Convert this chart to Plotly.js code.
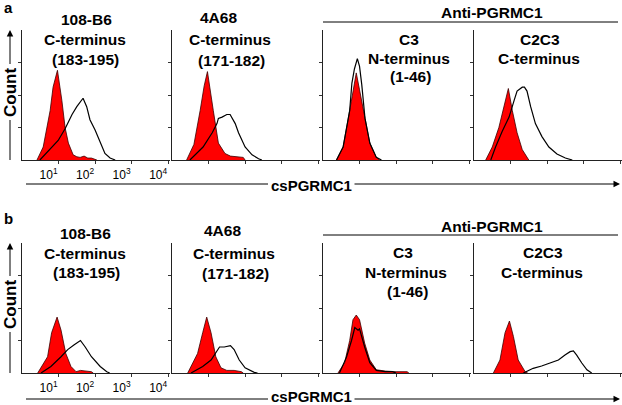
<!DOCTYPE html>
<html>
<head>
<meta charset="utf-8">
<script src="https://cdn.plot.ly/plotly-3.0.1.min.js"></script>
<style>html,body{margin:0;padding:0;background:#fff;}#chart{width:622px;height:405px;}</style>
</head>
<body>
<div id="chart"></div>
<script>
// ---- data (fluorescence intensity vs. count) ----
const tickVals = [10, 100, 1000, 10000];
const tickText = ['10<sup>1</sup>', '10<sup>2</sup>', '10<sup>3</sup>', '10<sup>4</sup>'];
const xTitle = 'csPGRMC1';
const yTitle = 'Count';
const groupLabel = 'Anti-PGRMC1';
const panelTitles = [
  ['108-B6', 'C-terminus', '(183-195)'],
  ['4A68', 'C-terminus', '(171-182)'],
  ['C3', 'N-terminus', '(1-46)'],
  ['C2C3', 'C-terminus']
];

// row a
const a1RedX = [2.57, 3.8, 5.89, 7.08, 9.33, 12.3, 15.1, 18.6, 25.1, 31.6, 38.9, 50.1, 63.1, 79.4, 112];
const a1RedY = [0, 10, 38, 56, 69, 46, 25, 13, 4, 2.5, 2, 3, 1.5, 1.5, 0];
const a1BlkX = [3.09, 5.89, 9.77, 15.1, 23.4, 31.6, 43.7, 46.8, 58.9, 72.4, 100, 138, 186, 257, 355];
const a1BlkY = [0, 8, 15, 24, 35, 41, 46, 47.5, 41, 31, 23, 13, 5, 1.5, 0];

const a2RedX = [2.51, 3.98, 5.89, 7.59, 9.33, 11.2, 13.5, 18.6, 28.2, 39.8, 56.2, 89.1, 100];
const a2RedY = [0, 12, 38, 57, 68, 52, 38, 13, 5, 3, 2.5, 2, 0];
const a2BlkX = [3.09, 7.08, 12.6, 17.0, 18.6, 23.4, 31.6, 38.9, 53.7, 66.1, 100, 155, 234, 288];
const a2BlkY = [0, 10, 21, 28, 32, 33, 35, 35, 28, 21, 10, 4, 1, 0];

const a3RedX = [2.34, 3.55, 5.37, 6.76, 8.13, 10, 14.1, 19.1, 28.8, 35.5];
const a3RedY = [0, 10, 38, 56, 67, 54, 31, 13, 2, 0];
const a3BlkX = [2.34, 3.55, 5.37, 6.17, 7.24, 8.71, 10, 11.5, 14.1, 19.1, 28.8, 39.8];
const a3BlkY = [0, 10, 38, 59, 70, 78, 72, 58, 32, 13, 2, 0];

const a4RedX = [2.09, 3.16, 4.79, 6.61, 8.71, 11.2, 15.1, 20.9, 28.2, 31.6];
const a4RedY = [0, 10, 25, 41, 55, 38, 21, 8, 1.5, 0];
const a4BlkX = [2.88, 3.89, 5.89, 9.12, 12.6, 15.1, 20.9, 24.0, 28.2, 35.5, 47.9, 72.4, 112, 186, 316, 490];
const a4BlkY = [0, 10, 22, 33, 46, 53, 56, 56, 53, 41, 28, 18, 10, 4.6, 1.5, 0];

// row b
const b1RedX = [2.69, 5.01, 6.46, 9.12, 11.7, 15.8, 21.9, 30.2, 39.8, 56.2, 79.4, 89.1];
const b1RedY = [0, 12.5, 31, 43, 33, 15, 5, 1, 2, 1.5, 1, 0];
const b1BlkX = [3.31, 6.17, 11.7, 17.8, 26.3, 39.8, 53.7, 79.4, 138, 209, 251];
const b1BlkY = [0, 5, 12.5, 18, 21.5, 25, 20, 12.5, 5, 1, 0];

const b2RedX = [2.69, 5.01, 6.92, 8.91, 11.7, 15.8, 21.9, 31.6, 50.1, 79.4, 89.1];
const b2RedY = [0, 15, 31, 43, 31, 12.5, 4, 2, 2, 1, 0];
const b2BlkX = [3.31, 6.92, 11.7, 15.8, 20, 26.9, 39.8, 50.1, 69.2, 100, 178, 219];
const b2BlkY = [0, 5, 10, 16, 20, 20, 21, 18, 10, 4, 0.5, 0];

const b3RedX = [2.57, 3.89, 5.37, 6.61, 8.13, 10, 13.8, 19.1, 28.8, 50.1, 100, 200, 224];
const b3RedY = [0, 7.7, 25, 41, 44.6, 41, 23, 10, 2.5, 1.5, 1, 1, 0];
const b3BlkX = [2.82, 4.37, 6.03, 7.41, 9.12, 10, 13.8, 19.1, 28.8, 50.1, 79.4, 100];
const b3BlkY = [0, 12, 25, 35, 33, 34, 20, 8, 2, 1, 1, 0];

const b4RedX = [3.39, 5.13, 7.08, 9.33, 12.0, 16.2, 25.1, 29.5];
const b4RedY = [0, 10, 31, 40, 28, 10, 1, 0];
const b4BlkX = [22.4, 27.5, 41.7, 70.8, 120, 204, 309, 427, 525, 646, 891, 1230, 1660];
const b4BlkY = [0, 1, 3.6, 5.4, 7.7, 10, 13.8, 16.4, 17, 13.8, 7.7, 2.5, 0];

const panels = [
  [a1RedX, a1RedY, a1BlkX, a1BlkY], [a2RedX, a2RedY, a2BlkX, a2BlkY],
  [a3RedX, a3RedY, a3BlkX, a3BlkY], [a4RedX, a4RedY, a4BlkX, a4BlkY],
  [b1RedX, b1RedY, b1BlkX, b1BlkY], [b2RedX, b2RedY, b2BlkX, b2BlkY],
  [b3RedX, b3RedY, b3BlkX, b3BlkY], [b4RedX, b4RedY, b4BlkX, b4BlkY]
];

// ---- layout geometry (pixels) ----
const W = 622, H = 405;
const colPx = [[22, 170], [172, 320], [323, 471], [474, 622]];
const rowPx = [[30, 160], [243, 373]];
const FONT = 'Liberation Sans, Arial, sans-serif';
const px = x => x / W, py = y => 1 - y / H;

const traces = [];
const layout = {
  width: W, height: H, margin: {l: 0, r: 0, t: 0, b: 0},
  paper_bgcolor: '#fff', plot_bgcolor: 'rgba(0,0,0,0)', showlegend: false,
  font: {family: FONT, color: '#000'},
  annotations: [], shapes: []
};

panels.forEach((p, i) => {
  const n = i + 1, row = Math.floor(i / 4), col = i % 4;
  const xa = 'x' + (n === 1 ? '' : n), ya = 'y' + (n === 1 ? '' : n);
  traces.push({x: p[0], y: p[1], xaxis: xa, yaxis: ya, type: 'scatter', mode: 'lines',
    fill: 'tozeroy', fillcolor: '#ff0000', line: {color: '#3a0000', width: 0.8}, hoverinfo: 'skip'});
  traces.push({x: p[2], y: p[3], xaxis: xa, yaxis: ya, type: 'scatter', mode: 'lines',
    line: {color: '#000', width: 1.2}, hoverinfo: 'skip'});
  layout['xaxis' + (n === 1 ? '' : n)] = {
    type: 'log', range: [0, 4.05], domain: [px(colPx[col][0]), px(colPx[col][1])],
    anchor: ya, showline: true, linecolor: '#222', linewidth: 1.3, showgrid: false, zeroline: false,
    ticks: 'outside', ticklen: 3, tickcolor: '#333', tickvals: tickVals, ticktext: tickText,
    showticklabels: col === 0, ticklabelshift: -10, tickfont: {size: 12, family: FONT, color: '#000'}
  };
  layout['yaxis' + (n === 1 ? '' : n)] = {
    range: [0, 100], domain: [py(rowPx[row][1]), py(rowPx[row][0])], anchor: xa,
    showline: true, linecolor: '#222', linewidth: 1.3, showgrid: false, zeroline: false,
    ticks: 'outside', ticklen: 3, tickcolor: '#333', tickvals: [25, 50, 75], showticklabels: false
  };
});

function txt(x, y, t, size, extra) {
  layout.annotations.push(Object.assign({xref: 'paper', yref: 'paper', x: px(x), y: py(y),
    text: '<b>' + t + '</b>', showarrow: false, xanchor: 'center', yanchor: 'middle',
    font: {size: size, family: FONT, color: '#000'}}, extra || {}));
}
function line(x0, y0, x1, y1) {
  layout.shapes.push({type: 'line', xref: 'paper', yref: 'paper', x0: px(x0), y0: py(y0),
    x1: px(x1), y1: py(y1), line: {color: '#000', width: 1}});
}
function arrow(xh, yh, ax, ay) {
  layout.annotations.push({xref: 'paper', yref: 'paper', x: px(xh), y: py(yh), text: ' ',
    showarrow: true, ax: ax, ay: ay, arrowhead: 2, arrowsize: 1.3, arrowwidth: 1, arrowcolor: '#000',
    font: {size: 1}});
}

// panel letters
txt(8, 8, 'a', 15);
txt(8, 218, 'b', 15);

// panel titles
const titlePos = [
  [[86, 19], [85, 39], [85, 59]],
  [[218, 18], [230, 39], [231, 60]],
  [[409, 39], [409, 58], [410, 76]],
  [[540, 39], [539, 58]],
  [[85, 233], [85, 253], [86, 272]],
  [[222, 230], [234, 253], [235, 273]],
  [[403, 252], [406, 272], [407, 291]],
  [[543, 252], [542, 272]]
];
titlePos.forEach((pos, i) => {
  const t = panelTitles[i % 4];
  pos.forEach((q, k) => txt(q[0], q[1], t[k], 15.5));
});

// group label with rule
[[12, 22], [226, 235]].forEach(r => {
  txt(492, r[0], groupLabel, 15.5);
  line(323, r[1], 618, r[1]);
});

// x titles with arrow rule
[[185, 184], [396, 399]].forEach(r => {
  txt(311, r[0], xTitle, 15);
  line(26, r[1], 268, r[1]);
  arrow(620, r[1], -267, 0);
});

// y titles with arrow
[[93, 30, 160], [305, 243, 373]].forEach(r => {
  txt(10, r[0], yTitle, 17, {textangle: -90});
  arrow(10, r[1], 0, (r[0] - 27) - r[1]);
  line(10, r[0] + 27, 10, r[2]);
});

Plotly.newPlot('chart', traces, layout, {staticPlot: true});
</script>
</body>
</html>
